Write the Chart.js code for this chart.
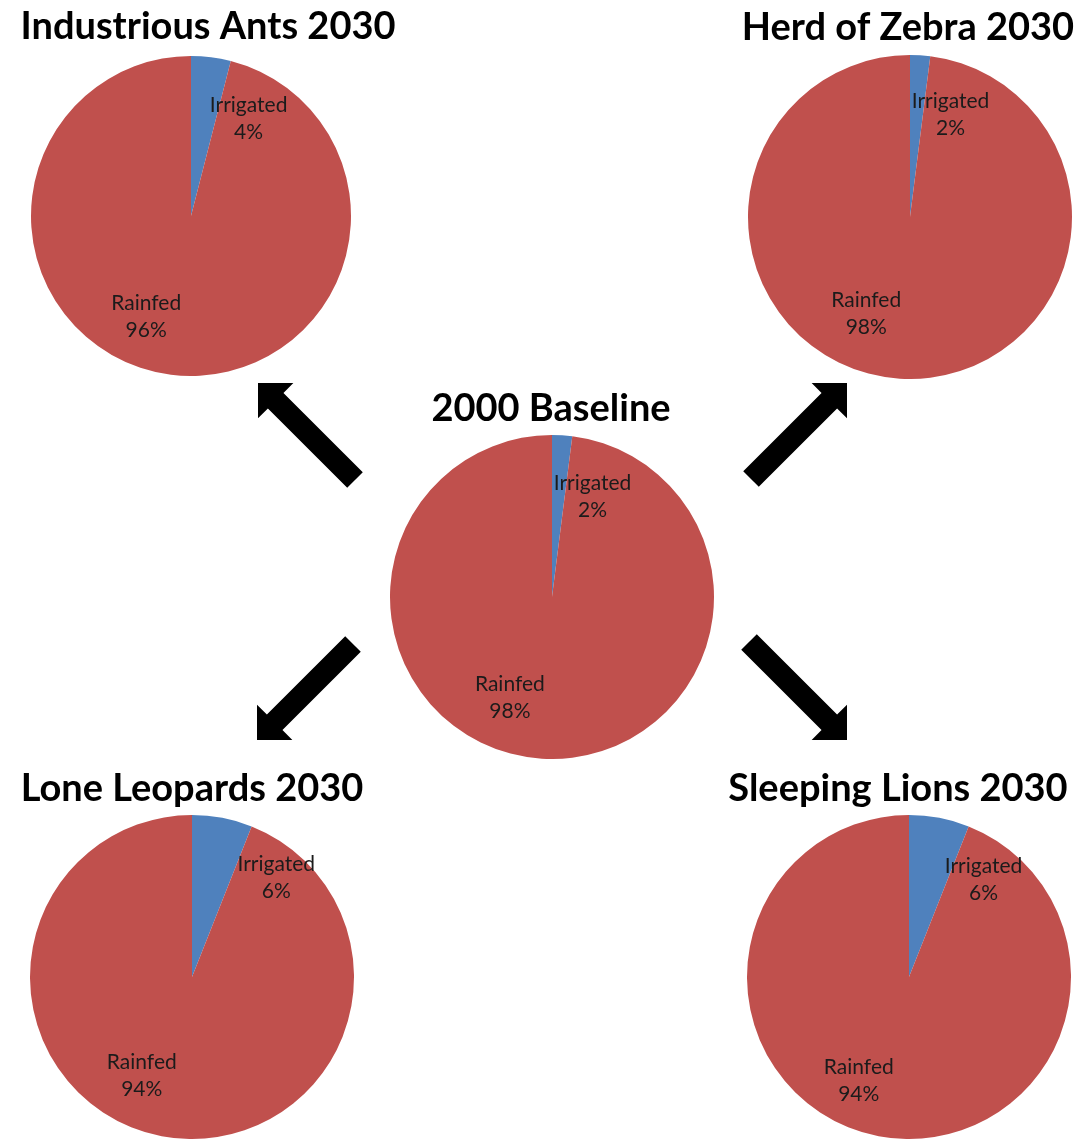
<!DOCTYPE html>
<html>
<head>
<meta charset="utf-8">
<title>Irrigated vs rainfed area, 2000 and 2030 scenarios</title>
<script src="https://cdn.jsdelivr.net/npm/chart.js@4.4.1/dist/chart.umd.min.js"></script>
<style>
  html, body { margin: 0; padding: 0; background: #fff; overflow: hidden; }
  #page { position: relative; width: 1083px; height: 1142px; }
  .pie { position: absolute; }
  #arrows { position: absolute; left: 0; top: 0; }
</style>
</head>
<body>
<div id="page">
  <svg id="arrows" width="1083" height="1142"></svg>
</div>
<script>
// ---------- DATA ----------
const categories = ['Irrigated', 'Rainfed'];
const scenarios = ['Industrious Ants 2030', 'Herd of Zebra 2030', '2000 Baseline', 'Lone Leopards 2030', 'Sleeping Lions 2030'];
const antsShare = [4, 96];
const zebraShare = [2, 98];
const baselineShare = [2, 98];
const leopardsShare = [6, 94];
const lionsShare = [6, 94];

const sliceColors = ['#4F81BD', '#C0504D'];

// ---------- LAYOUT (per pie: centre, radius, title position, label spots) ----------
const pies = [
  { id: 'ants',     title: scenarios[0], data: antsShare,     cx: 191, top: 56,  r: 160, titleMid: 27,  titleShift: 17,
    spots: [[0.36, -0.61], [-0.28, 0.63]] },
  { id: 'zebra',    title: scenarios[1], data: zebraShare,    cx: 910, top: 55,  r: 162, titleMid: 28,  titleShift: -2,
    spots: [[0.25, -0.63], [-0.27, 0.60]] },
  { id: 'baseline', title: scenarios[2], data: baselineShare, cx: 552, top: 435, r: 162, titleMid: 409, titleShift: -1,
    spots: [[0.25, -0.62], [-0.26, 0.62]] },
  { id: 'leopards', title: scenarios[3], data: leopardsShare, cx: 192, top: 815, r: 162, titleMid: 789, titleShift: 0,
    spots: [[0.52, -0.61], [-0.31, 0.61]] },
  { id: 'lions',    title: scenarios[4], data: lionsShare,    cx: 909, top: 815, r: 162, titleMid: 789, titleShift: -11,
    spots: [[0.46, -0.60], [-0.31, 0.64]] }
];

const W = 460;          // canvas width, centred on the pie
const TITLE_SIZE = 38;
const TITLE_LH = 1.2;

// ---------- PLUGIN: nudge title + draw "name / value%" labels ----------
const sliceLabels = {
  id: 'sliceLabels',
  afterLayout(chart, args, opts) {
    const t = chart.titleBlock;
    if (t && opts.titleShift) { t.left += opts.titleShift; t.right += opts.titleShift; }
  },
  afterDatasetsDraw(chart, args, opts) {
    const { ctx } = chart;
    const meta = chart.getDatasetMeta(0);
    const values = chart.data.datasets[0].data;
    const lh = opts.lineHeight;
    ctx.save();
    ctx.font = opts.font;
    ctx.fillStyle = opts.color;
    ctx.textAlign = 'center';
    ctx.textBaseline = 'middle';
    meta.data.forEach((arc, i) => {
      const [fx, fy] = opts.spots[i];
      const x = arc.x + fx * arc.outerRadius;
      const y = arc.y + fy * arc.outerRadius;
      ctx.fillText(chart.data.labels[i], x, y - lh / 2);
      ctx.fillText(values[i] + '%', x, y + lh / 2);
    });
    ctx.restore();
  }
};

const page = document.getElementById('page');

pies.forEach(p => {
  const titleBox = TITLE_SIZE * TITLE_LH;
  const canvasTop = Math.round(p.titleMid - titleBox / 2);
  const padBottom = p.top - canvasTop - titleBox;
  const H = p.top + 2 * p.r - canvasTop;

  const wrap = document.createElement('div');
  wrap.className = 'pie';
  wrap.style.left = (p.cx - W / 2) + 'px';
  wrap.style.top = canvasTop + 'px';
  wrap.style.width = W + 'px';
  wrap.style.height = H + 'px';
  const cv = document.createElement('canvas');
  cv.id = p.id;
  wrap.appendChild(cv);
  page.appendChild(wrap);

  new Chart(cv.getContext('2d'), {
    type: 'pie',
    data: {
      labels: categories,
      datasets: [{ data: p.data, backgroundColor: sliceColors, borderWidth: 0 }]
    },
    options: {
      responsive: true,
      maintainAspectRatio: false,
      animation: false,
      layout: { padding: 0 },
      plugins: {
        legend: { display: false },
        tooltip: { enabled: false },
        title: {
          display: true,
          text: p.title,
          color: '#000',
          font: { family: 'Lato, "Open Sans", sans-serif', size: TITLE_SIZE, weight: 'bold', lineHeight: TITLE_LH },
          padding: { top: 0, bottom: padBottom }
        },
        sliceLabels: {
          spots: p.spots,
          titleShift: p.titleShift,
          font: '21px Lato, "Open Sans", sans-serif',
          color: '#1b1b1b',
          lineHeight: 27
        }
      }
    },
    plugins: [sliceLabels]
  });
});

// ---------- ARROWS from the baseline out to each scenario ----------
const arrows = [
  { tip: [258, 383], tail: [355, 480] },
  { tip: [847, 383], tail: [751, 479] },
  { tip: [257, 740], tail: [353, 644] },
  { tip: [847, 740], tail: [749, 642] }
];

const svg = document.getElementById('arrows');
arrows.forEach(a => {
  const dx = a.tip[0] - a.tail[0], dy = a.tip[1] - a.tail[1];
  const len = Math.hypot(dx, dy);
  const ang = Math.atan2(dy, dx) * 180 / Math.PI;
  const head = 25, headW = 25, shaftW = 11;
  const pts = [
    [0, 0], [-head, -headW], [-head, -shaftW], [-len, -shaftW],
    [-len, shaftW], [-head, shaftW], [-head, headW]
  ].map(q => q.join(',')).join(' ');
  const poly = document.createElementNS('http://www.w3.org/2000/svg', 'polygon');
  poly.setAttribute('points', pts);
  poly.setAttribute('fill', '#000');
  poly.setAttribute('transform', `translate(${a.tip[0]},${a.tip[1]}) rotate(${ang})`);
  svg.appendChild(poly);
});
</script>
</body>
</html>
